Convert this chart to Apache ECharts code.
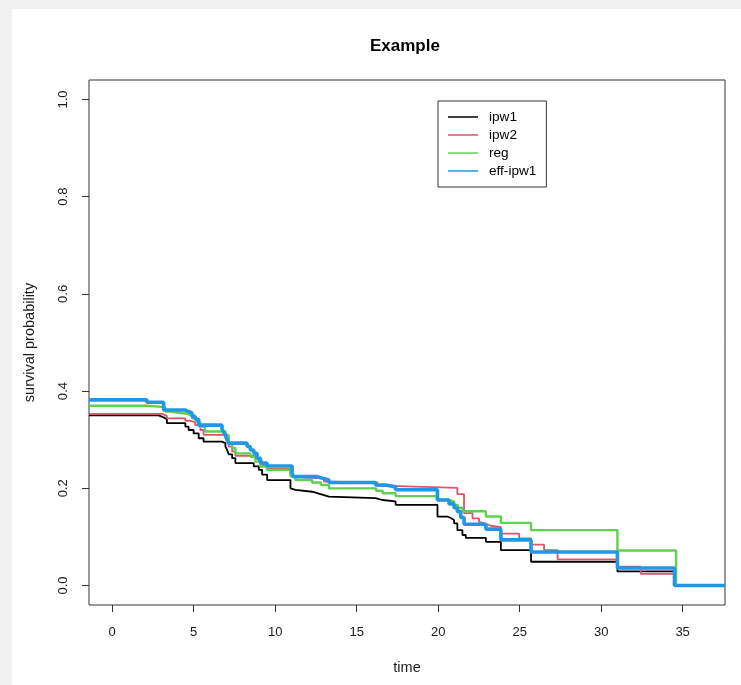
<!DOCTYPE html>
<html>
<head>
<meta charset="utf-8">
<script src="https://cdn.jsdelivr.net/npm/echarts@6/dist/echarts.min.js"></script>
<style>
  html, body { margin: 0; padding: 0; width: 741px; height: 685px; background: #f1f1f1; overflow: hidden; }
  #paper { position: absolute; left: 12px; top: 9px; right: 0; bottom: 0; background: #ffffff; }
  #chart { position: absolute; left: 0; top: 0; width: 741px; height: 685px; }
</style>
</head>
<body>
<div id="paper"></div>
<div id="chart"></div>
<script>
// ---- axis ranges and ticks ----
const X_MIN = -1.42, X_MAX = 37.6;
const Y_MIN = -0.04, Y_MAX = 1.04;
const xTicks = [0, 5, 10, 15, 20, 25, 30, 35];
const yTicks = [0, 0.2, 0.4, 0.6, 0.8, 1.0];
const seriesNames = ['ipw1', 'ipw2', 'reg', 'eff-ipw1'];

// ---- step functions: value holds from time[i] until time[i+1] ----
const ipw1Time = [0, 2.85, 3.16, 3.36, 4.49, 4.69, 5.0, 5.31, 5.61, 6.74, 6.95, 7.05, 7.15, 7.36, 7.56, 8.69, 9.0, 9.2, 9.51, 10.94, 11.04, 11.25, 12.27, 12.58, 12.99, 13.3, 16.16, 16.58, 17.39, 19.96, 20.57, 20.77, 20.98, 21.18, 21.49, 21.7, 22.93, 23.85, 25.7, 31.0, 34.5];
const ipw1Surv = [0.350, 0.346, 0.342, 0.334, 0.327, 0.320, 0.313, 0.303, 0.296, 0.293, 0.286, 0.279, 0.270, 0.262, 0.252, 0.245, 0.238, 0.228, 0.217, 0.200, 0.197, 0.193, 0.190, 0.186, 0.183, 0.180, 0.176, 0.173, 0.166, 0.142, 0.139, 0.135, 0.128, 0.114, 0.104, 0.098, 0.090, 0.073, 0.049, 0.029, 0.0];

const ipw2Time = [0, 3.06, 3.36, 4.49, 4.8, 5.1, 5.41, 5.61, 6.95, 7.15, 7.36, 7.56, 8.79, 9.0, 9.2, 9.51, 10.94, 11.04, 11.25, 12.99, 13.3, 16.27, 17.0, 21.18, 21.59, 22.11, 22.51, 22.62, 22.93, 23.23, 23.85, 24.97, 25.7, 26.5, 27.33, 31.0, 32.43, 34.5];
const ipw2Surv = [0.353, 0.349, 0.344, 0.339, 0.336, 0.330, 0.320, 0.310, 0.303, 0.286, 0.276, 0.267, 0.262, 0.256, 0.248, 0.240, 0.228, 0.224, 0.220, 0.214, 0.212, 0.205, 0.201, 0.188, 0.149, 0.138, 0.131, 0.127, 0.123, 0.120, 0.107, 0.097, 0.084, 0.073, 0.054, 0.039, 0.024, 0.0];

const regTime = [0, 2.13, 3.26, 3.5, 4.49, 4.9, 5.2, 5.41, 5.7, 6.95, 7.15, 7.36, 7.56, 8.48, 8.79, 9.1, 9.5, 10.94, 11.04, 11.25, 12.27, 12.8, 13.3, 16.2, 16.6, 17.39, 19.96, 20.57, 20.98, 21.2, 21.49, 22.93, 23.85, 25.7, 31.0, 34.6];
const regSurv = [0.370, 0.367, 0.358, 0.354, 0.350, 0.344, 0.336, 0.327, 0.317, 0.310, 0.293, 0.283, 0.272, 0.265, 0.255, 0.245, 0.238, 0.225, 0.222, 0.217, 0.212, 0.207, 0.200, 0.195, 0.190, 0.184, 0.176, 0.173, 0.166, 0.160, 0.153, 0.142, 0.129, 0.114, 0.072, 0.0];

const effTime = [0, 2.13, 3.16, 4.49, 4.69, 4.9, 5.1, 5.31, 6.74, 6.85, 6.95, 7.05, 7.15, 8.28, 8.48, 8.69, 8.89, 9.1, 9.5, 11.04, 11.14, 11.35, 12.58, 12.9, 13.3, 16.16, 16.78, 17.39, 19.96, 20.67, 20.98, 21.18, 21.39, 21.59, 22.93, 23.85, 25.7, 31.0, 34.5];
const effSurv = [0.382, 0.377, 0.361, 0.358, 0.355, 0.348, 0.342, 0.330, 0.322, 0.315, 0.310, 0.300, 0.293, 0.286, 0.279, 0.272, 0.262, 0.252, 0.246, 0.231, 0.224, 0.224, 0.221, 0.217, 0.212, 0.207, 0.203, 0.197, 0.176, 0.168, 0.160, 0.152, 0.140, 0.126, 0.116, 0.094, 0.069, 0.036, 0.0];

const colors = ['#000000', '#DF536B', '#61D04F', '#2297E6'];
const widths = [1.8, 1.8, 2.4, 3.6];

function stepData(times, surv) {
  const d = [[X_MIN, surv[0]]];
  for (let i = 0; i < times.length; i++) d.push([times[i], surv[i]]);
  d.push([X_MAX, surv[surv.length - 1]]);
  return d;
}
const allData = [
  stepData(ipw1Time, ipw1Surv),
  stepData(ipw2Time, ipw2Surv),
  stepData(regTime, regSurv),
  stepData(effTime, effSurv)
];

const FONT = 'Liberation Sans, Arial, sans-serif';
const chart = echarts.init(document.getElementById('chart'), null, { renderer: 'canvas' });
chart.setOption({
  animation: false,
  backgroundColor: 'transparent',
  color: colors,
  title: {
    text: 'Example',
    left: 370, top: 38, padding: 0,
    textStyle: { fontFamily: FONT, fontSize: 17, fontWeight: 'bold', color: '#000' }
  },
  legend: {
    data: seriesNames,
    orient: 'vertical',
    left: 438, top: 101,
    padding: [9, 10, 9, 10],
    itemGap: 4,
    itemWidth: 30,
    itemHeight: 1.5,
    icon: 'rect',
    borderColor: '#333', borderWidth: 1,
    backgroundColor: '#fff',
    textStyle: { fontFamily: FONT, fontSize: 13.6, color: '#000', lineHeight: 14, padding: [0, 0, 0, 6] }
  },
  grid: {
    left: 89, right: 16, top: 80, bottom: 80,
    show: true, borderColor: '#333', borderWidth: 1, backgroundColor: 'transparent'
  },
  xAxis: {
    type: 'value', min: X_MIN, max: X_MAX,
    name: 'time', nameLocation: 'middle', nameGap: 55,
    nameTextStyle: { fontFamily: FONT, fontSize: 14.5, color: '#1a1a1a' },
    axisLine: { show: false, onZero: false },
    splitLine: { show: false },
    axisTick: { show: true, inside: false, length: 7, customValues: xTicks, lineStyle: { color: '#333' } },
    axisLabel: { customValues: xTicks, margin: 21, fontFamily: FONT, fontSize: 13, color: '#1a1a1a' }
  },
  yAxis: {
    type: 'value', min: Y_MIN, max: Y_MAX,
    name: 'survival probability', nameLocation: 'middle', nameGap: 52, nameRotate: 90,
    nameTextStyle: { fontFamily: FONT, fontSize: 14.5, color: '#1a1a1a' },
    axisLine: { show: false, onZero: false },
    splitLine: { show: false },
    axisTick: { show: true, inside: false, length: 7, customValues: yTicks, lineStyle: { color: '#333' } },
    axisLabel: { customValues: yTicks, rotate: 90, margin: 19, fontFamily: FONT, fontSize: 13, color: '#1a1a1a',
      formatter: v => v.toFixed(1) }
  },
  series: seriesNames.map((n, i) => ({
    name: n, type: 'line', step: 'end', data: allData[i],
    showSymbol: false, symbol: 'none', clip: true,
    lineStyle: { color: colors[i], width: widths[i] },
    itemStyle: { color: colors[i] },
    z: 2 + i
  }))
});
</script>
</body>
</html>
